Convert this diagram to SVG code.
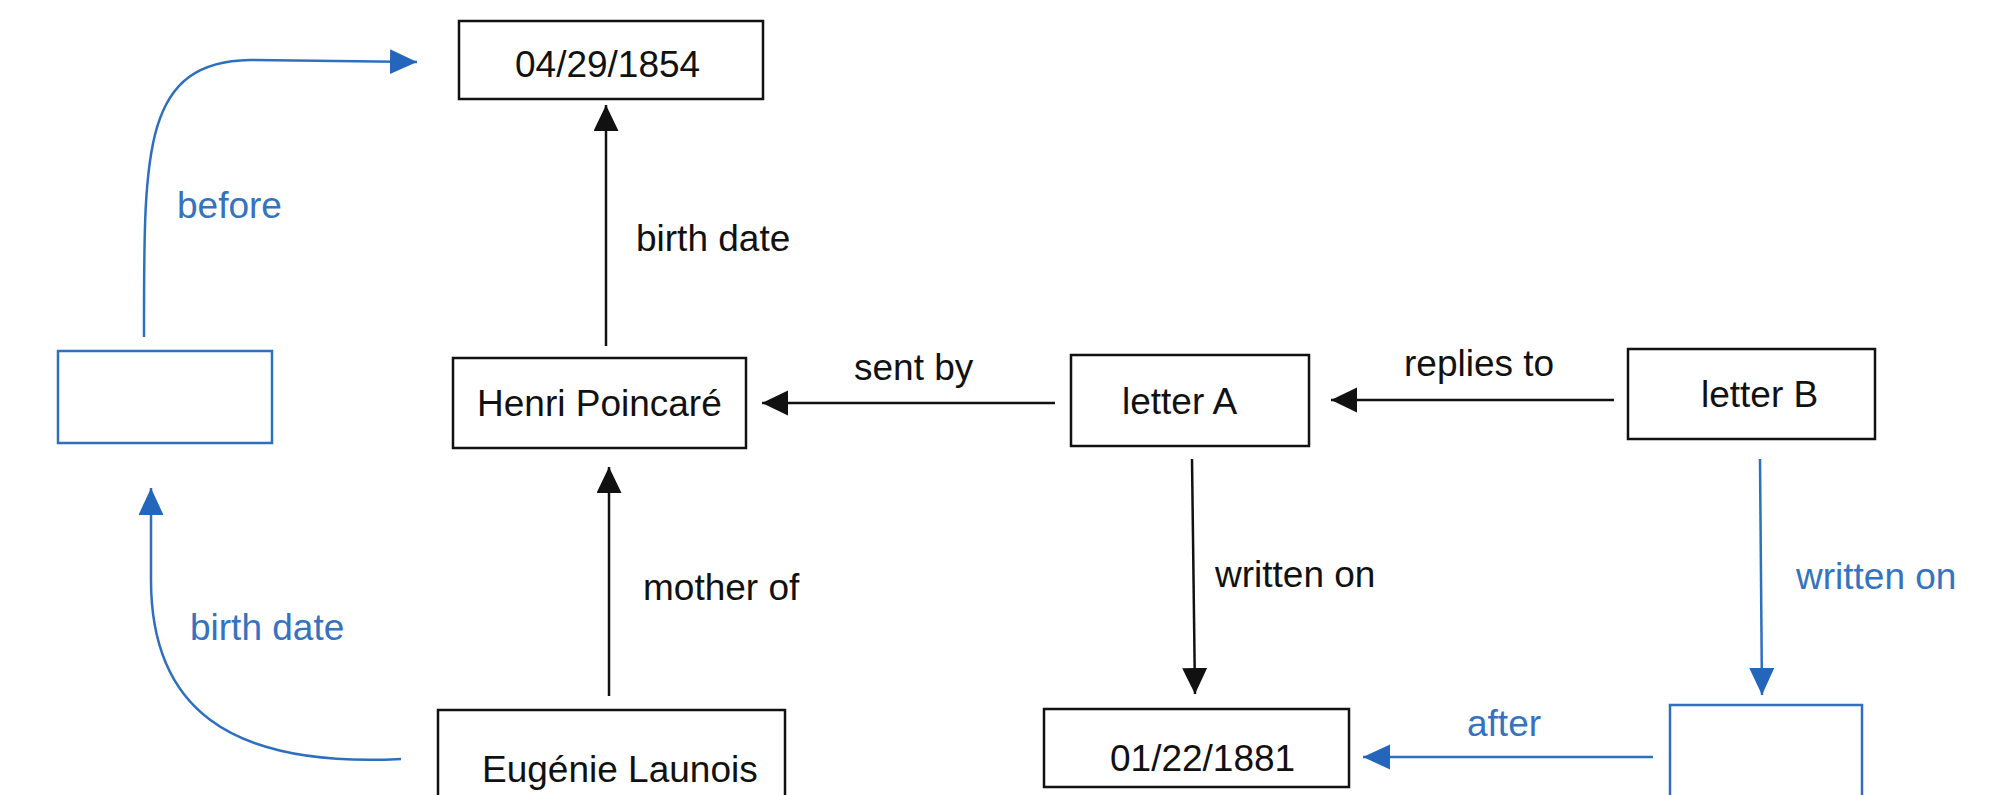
<svg xmlns="http://www.w3.org/2000/svg" width="2012" height="795" viewBox="0 0 2012 795">
<defs>
<style>
.box{fill:#fff;stroke:#111;stroke-width:2.5}
.bbox{fill:#fff;stroke:#2f6fc0;stroke-width:2.5}
.t{font-family:"Liberation Sans",Arial,sans-serif;font-size:37px;fill:#111}
.bt{font-family:"Liberation Sans",Arial,sans-serif;font-size:37px;fill:#3572bf}
.e{fill:none;stroke:#111;stroke-width:2.5}
.be{fill:none;stroke:#2f6fc0;stroke-width:2.5}
</style>
<marker id="ah" markerUnits="userSpaceOnUse" markerWidth="27" markerHeight="26" refX="26" refY="12.5" orient="auto">
<path d="M0,0 L26,12.5 L0,25 z" fill="#111"/>
</marker>
<marker id="bh" markerUnits="userSpaceOnUse" markerWidth="28" markerHeight="26" refX="27" refY="12.5" orient="auto">
<path d="M0,0 L27,12.5 L0,25 z" fill="#2466bb"/>
</marker>
</defs>
<rect width="2012" height="795" fill="#fff"/>
<g id="connectors">
<path class="e" d="M606,346 L606,105" marker-end="url(#ah)"/>
<path class="e" d="M609,696 L609,467" marker-end="url(#ah)"/>
<path class="e" d="M1055,403 L762,403" marker-end="url(#ah)"/>
<path class="e" d="M1614,400 L1331,400" marker-end="url(#ah)"/>
<path class="e" d="M1192,459 L1195,694" marker-end="url(#ah)"/>
<path class="be" d="M1760,459 L1762,695" marker-end="url(#bh)"/>
<path class="be" d="M1653,757 L1363,757" marker-end="url(#bh)"/>
<path class="be" d="M144,337 C144,150 142,62 250,60 L417,62" marker-end="url(#bh)"/>
<path class="be" d="M401,759 C225,768 151,705 151,580 L151,488" marker-end="url(#bh)"/>
<text class="t" x="636" y="251">birth date</text>
<text class="t" x="643" y="600">mother of</text>
<text class="t" x="854" y="380">sent by</text>
<text class="t" x="1404" y="376">replies to</text>
<text class="t" x="1215" y="587">written on</text>
<text class="bt" x="1796" y="589">written on</text>
<text class="bt" x="1467" y="736">after</text>
<text class="bt" x="177" y="218">before</text>
<text class="bt" x="190" y="640">birth date</text>
</g>
<g id="n-date1854"><rect class="box" x="459" y="21" width="304" height="78"/><text class="t" x="515" y="77">04/29/1854</text></g>
<g id="n-henri"><rect class="box" x="453" y="358" width="293" height="90"/><text class="t" x="477" y="416">Henri Poincaré</text></g>
<g id="n-blank-left"><rect class="bbox" x="58" y="351" width="214" height="92"/></g>
<g id="n-letterA"><rect class="box" x="1071" y="355" width="238" height="91"/><text class="t" x="1122" y="414">letter A</text></g>
<g id="n-letterB"><rect class="box" x="1628" y="349" width="247" height="90"/><text class="t" x="1701" y="407">letter B</text></g>
<g id="n-eugenie"><rect class="box" x="438" y="710" width="347" height="100"/><text class="t" x="482" y="782">Eugénie Launois</text></g>
<g id="n-date1881"><rect class="box" x="1044" y="709" width="305" height="78"/><text class="t" x="1110" y="771">01/22/1881</text></g>
<g id="n-blank-right"><rect class="bbox" x="1670" y="705" width="192" height="110"/></g>
</svg>
